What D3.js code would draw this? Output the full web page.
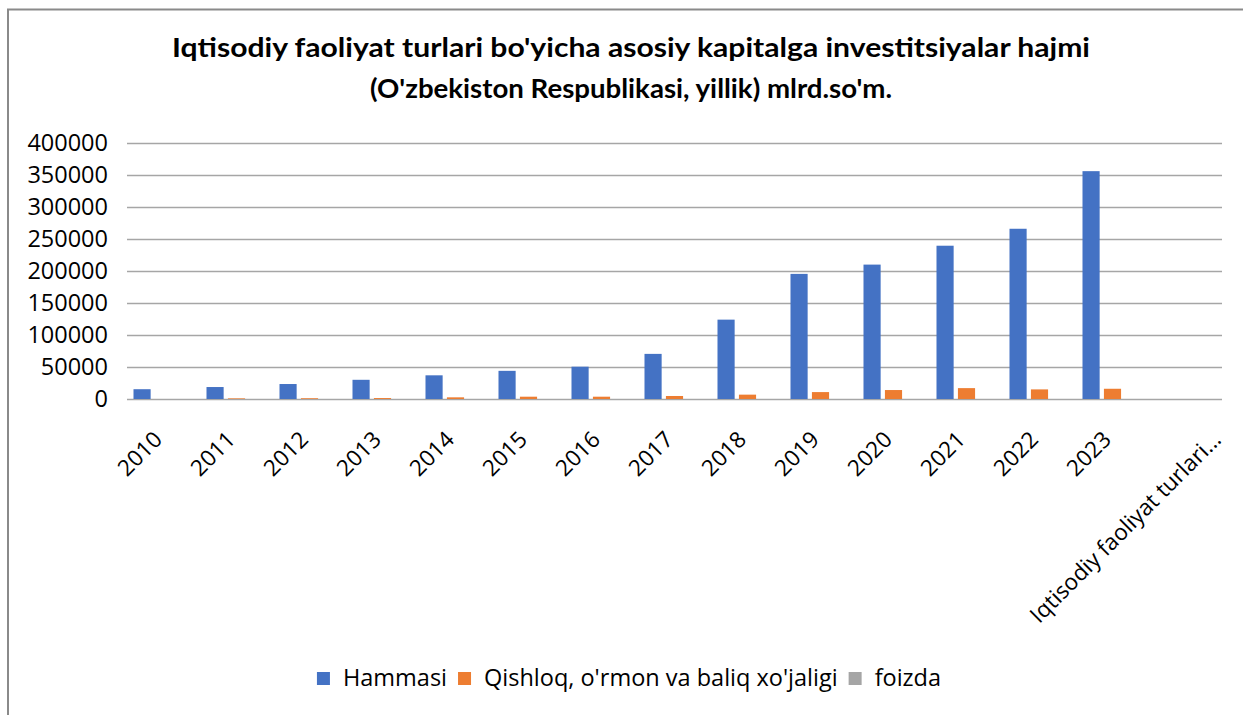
<!DOCTYPE html>
<html>
<head>
<meta charset="utf-8">
<script src="https://cdn.jsdelivr.net/npm/d3@7"></script>
<style>
  html, body { margin: 0; padding: 0; background: #fff; }
  svg { display: block; font-family: Lato, "Open Sans", sans-serif; }
</style>
</head>
<body>
<svg id="chart" width="1243" height="715"></svg>
<script>
// Data (mlrd. so'm)
const categories = ['2010', '2011', '2012', '2013', '2014', '2015', '2016',
  '2017', '2018', '2019', '2020', '2021', '2022', '2023', 'Iqtisodiy faoliyat turlari...'];
const seriesNames = ['Hammasi', "Qishloq, o'rmon va baliq xo'jaligi", 'foizda'];
const hammasi = [15300, 18700, 23400, 30000, 37000, 44000, 50500, 70500,
  124000, 195500, 210000, 239500, 266000, 356000, null];
const qishloq = [0, 1000, 1200, 1500, 2600, 3600, 3600, 4700,
  6800, 10800, 14000, 17000, 15000, 16000, null];
const foizda = [null, null, null, null, null, null, null, null,
  null, null, null, null, null, null, null];
const yTicks = [0, 50000, 100000, 150000, 200000, 250000, 300000, 350000, 400000];
const titleLines = ["Iqtisodiy faoliyat turlari bo'yicha asosiy kapitalga investitsiyalar hajmi",
  "(O'zbekiston Respublikasi, yillik) mlrd.so'm."];

const colors = ['#4472c4', '#ed7d31', '#a5a5a5'];
const allSeries = [hammasi, qishloq, foizda];

const svg = d3.select('#chart');
const plot = { left: 127, right: 1222, top: 143, bottom: 399 };

// frame
svg.append('rect')
  .attr('x', 8).attr('y', 9.5)
  .attr('width', 1300).attr('height', 800)
  .attr('fill', '#fff')
  .attr('stroke', '#8a8a8a')
  .attr('stroke-width', 2);

// title, squeezed to the reference widths
const titleWidths = [918, 522];
titleLines.forEach((line, i) => {
  svg.append('text')
    .attr('x', 631)
    .attr('y', 57 + i * 41)
    .attr('text-anchor', 'middle')
    .attr('font-weight', 700)
    .attr('font-size', 26)
    .attr('fill', '#000')
    .attr('textLength', titleWidths[i])
    .attr('lengthAdjust', 'spacingAndGlyphs')
    .text(line);
});

// scales
const x0 = d3.scaleBand()
  .domain(categories)
  .range([plot.left, plot.right])
  .paddingInner(0.178)
  .paddingOuter(0.089);

const x1 = d3.scaleBand()
  .domain(seriesNames)
  .range([0, x0.bandwidth()])
  .paddingInner(0.2);

const y = d3.scaleLinear()
  .domain([0, 400000])
  .range([plot.bottom, plot.top]);

// grid + y labels
const yAxis = svg.append('g')
  .attr('transform', `translate(${plot.left},0)`)
  .call(d3.axisLeft(y)
    .tickValues(yTicks)
    .tickSize(-(plot.right - plot.left))
    .tickPadding(19)
    .tickFormat(d3.format('d')));

yAxis.select('.domain').remove();
yAxis.selectAll('.tick line')
  .attr('stroke', '#a6a6a6')
  .attr('stroke-width', 1.6);
yAxis.selectAll('.tick text')
  .attr('font-size', 23.5)
  .attr('fill', '#000')
  .attr('font-family', '"Open Sans", sans-serif');

// bars
const groups = svg.append('g')
  .selectAll('g')
  .data(categories)
  .join('g')
  .attr('transform', (d) => `translate(${x0(d)},0)`);

groups.selectAll('rect')
  .data((d, i) => seriesNames.map((name, s) => ({ name, value: allSeries[s][i], s })))
  .join('rect')
  .filter((d) => d.value != null && d.value > 0)
  .attr('x', (d) => x1(d.name))
  .attr('width', x1.bandwidth())
  .attr('y', (d) => y(d.value))
  .attr('height', (d) => y(0) - y(d.value))
  .attr('fill', (d) => colors[d.s]);

// x labels, rotated -45
const xLabels = svg.append('g');
categories.forEach((c, i) => {
  const cx = x0(c) + x0.bandwidth() / 2;
  const shift = i === categories.length - 1 ? 37 : 0;
  xLabels.append('text')
    .attr('transform', `translate(${cx + shift},441) rotate(-45)`)
    .attr('text-anchor', 'end')
    .attr('font-size', 22.5)
    .attr('fill', '#000')
    .attr('font-family', '"Open Sans", sans-serif')
    .text(c);
});

// legend
const legend = svg.append('g');
let lx = 0;
seriesNames.forEach((name, i) => {
  const item = legend.append('g').attr('transform', `translate(${lx},0)`);
  item.append('rect')
    .attr('x', 0).attr('y', -14)
    .attr('width', 13).attr('height', 13)
    .attr('fill', colors[i]);
  const t = item.append('text')
    .attr('x', 26)
    .attr('y', 0)
    .attr('font-size', 23.5)
    .attr('fill', '#000')
    .attr('font-family', '"Open Sans", sans-serif')
    .text(name);
  lx += 26 + t.node().getComputedTextLength() + 11;
});
const legendWidth = lx - 11;
legend.attr('transform', `translate(${629 - legendWidth / 2},686)`);
</script>
</body>
</html>
